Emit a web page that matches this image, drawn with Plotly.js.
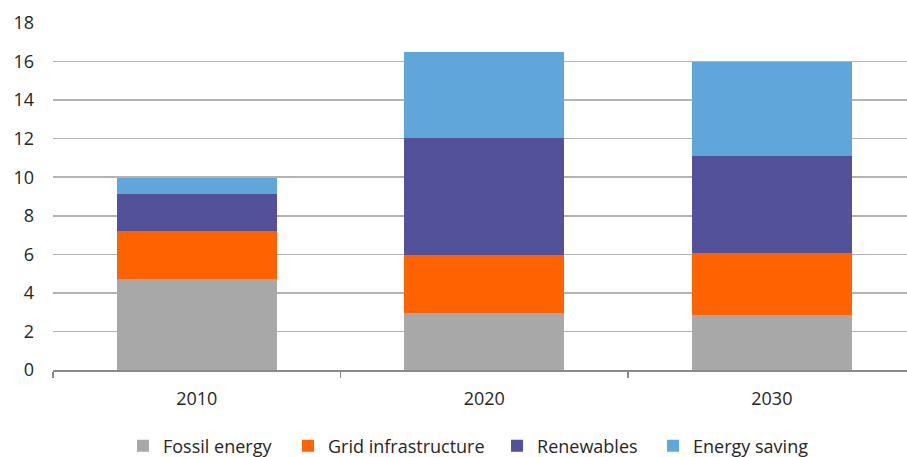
<!DOCTYPE html>
<html>
<head>
<meta charset="utf-8">
<script src="https://cdn.plot.ly/plotly-3.0.1.min.js"></script>
<style>html,body{margin:0;padding:0;background:#fff;}#chart{width:907px;height:457px;}</style>
</head>
<body>
<div id="chart"></div>
<script>
const years = ['2010', '2020', '2030'];
const fossil = [4.71, 2.94, 2.84];
const grid = [2.49, 3.02, 3.22];
const renewables = [1.94, 6.09, 5.05];
const saving = [0.83, 4.43, 4.87];
const seriesNames = ['Fossil energy', 'Grid infrastructure', 'Renewables', 'Energy saving'];
const seriesColors = ['#A8A8A8', '#FF6200', '#525199', '#60A6DA'];
const seriesValues = [fossil, grid, renewables, saving];

const legendIds = ['legend', 'legend2', 'legend3', 'legend4'];
const legendX = [0.1356, 0.3175, 0.548, 0.720];

const traces = seriesValues.map((vals, i) => ({
  type: 'bar',
  x: years,
  y: vals,
  name: seriesNames[i],
  legend: legendIds[i],
  marker: {color: seriesColors[i], line: {width: 0}},
  hoverinfo: 'x+y+name'
}));

const font = {family: 'Open Sans, Noto Sans, sans-serif', size: 18, color: '#262626'};

const layout = {
  width: 907,
  height: 457,
  margin: {l: 53, r: 0, t: 23, b: 87, autoexpand: false},
  barmode: 'stack',
  bargap: 0.444,
  paper_bgcolor: '#ffffff',
  plot_bgcolor: '#ffffff',
  font: font,
  showlegend: true,
  xaxis: {
    type: 'category',
    range: [-0.5, 2.47],
    showgrid: false,
    showline: true,
    linecolor: '#8a8a8a',
    linewidth: 2,
    ticks: 'outside',
    tickson: 'boundaries',
    ticklen: 6,
    tickcolor: '#8a8a8a',
    tickwidth: 1.5,
    ticklabelstandoff: 11,
    tickfont: font,
    zeroline: false,
    fixedrange: true
  },
  yaxis: {
    range: [0, 18],
    dtick: 2,
    tick0: 0,
    showgrid: true,
    gridcolor: '#b3b3b3',
    gridwidth: 1.5,
    zeroline: false,
    showline: false,
    ticks: '',
    ticklabelstandoff: 18,
    tickfont: font,
    fixedrange: true
  }
};

legendIds.forEach((id, i) => {
  layout[id] = {
    orientation: 'h',
    xref: 'container',
    yref: 'container',
    x: legendX[i], xanchor: 'left',
    y: 0.024, yanchor: 'middle',
    font: font,
    itemwidth: 30,
    itemclick: false,
    bgcolor: 'rgba(0,0,0,0)'
  };
});

Plotly.newPlot('chart', traces, layout, {displayModeBar: false, staticPlot: true});
</script>
</body>
</html>
